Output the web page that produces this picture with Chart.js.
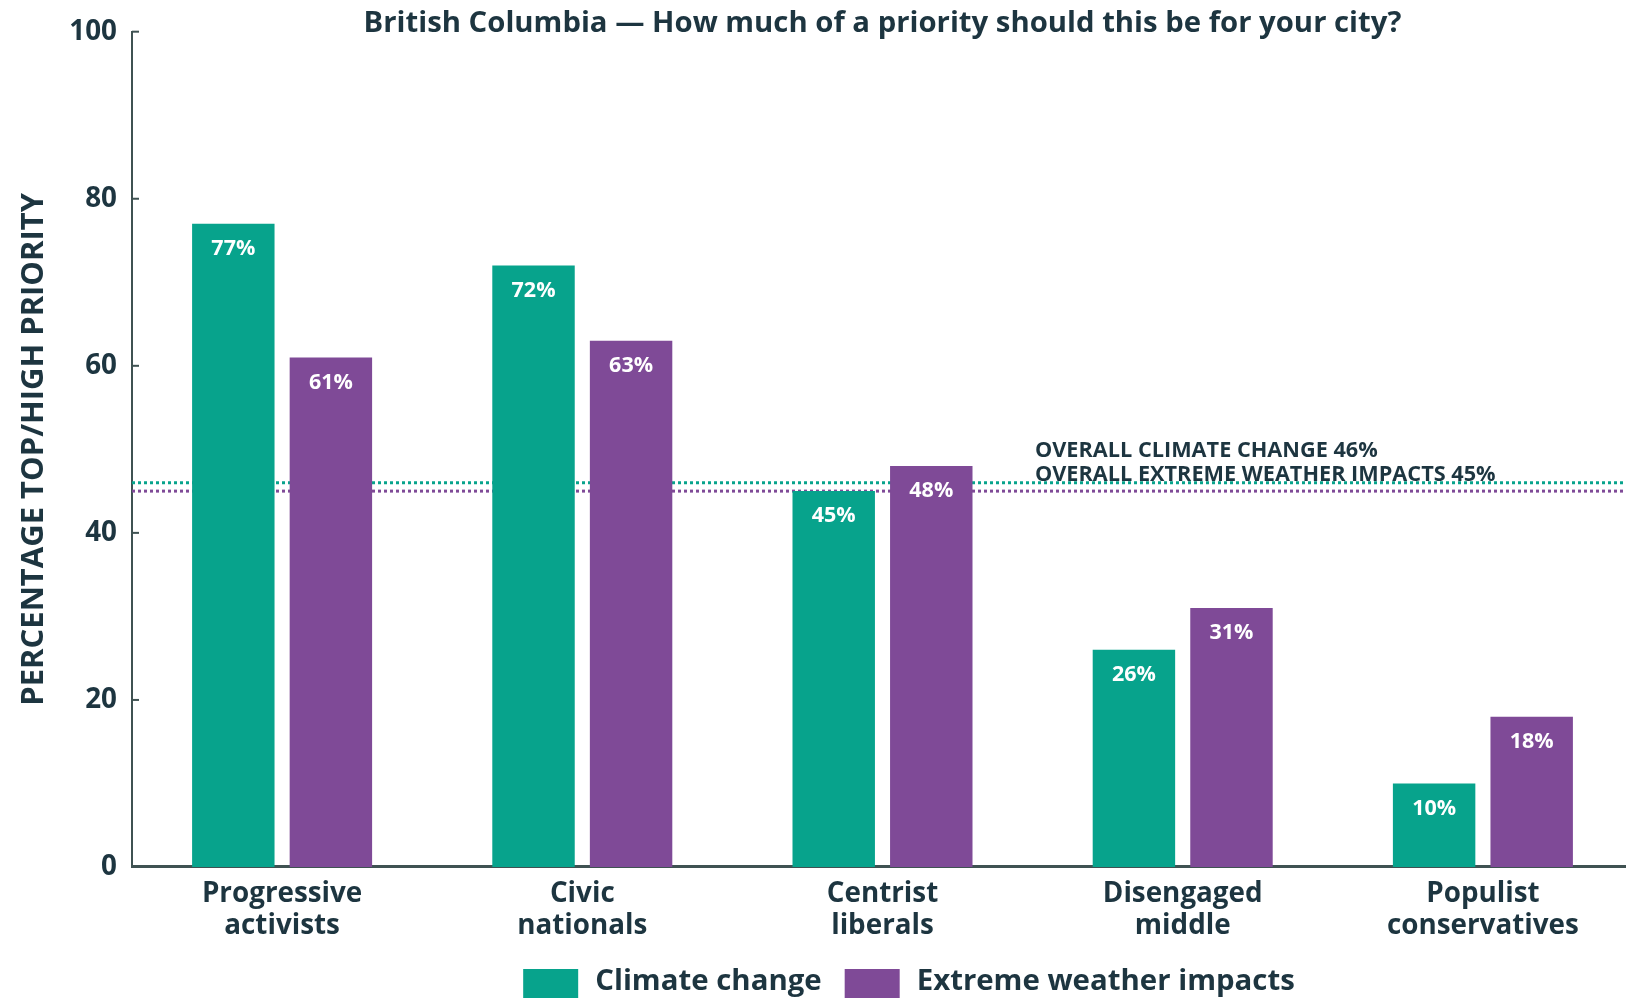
<!DOCTYPE html>
<html>
<head>
<meta charset="utf-8">
<script src="https://cdn.jsdelivr.net/npm/chart.js@4.4.1/dist/chart.umd.min.js"></script>
<style>
	html, body { margin: 0; padding: 0; background: #fff; overflow: hidden; }
	/* the plot runs a few pixels past the right edge of the page */
	#wrap { width: 1626px; height: 998px; overflow: hidden; }
</style>
</head>
<body>
<div id="wrap"><canvas id="priorityChart" width="1633" height="998"></canvas></div>
<script>
// segments along the x axis (two lines each)
const segments = [
	['Progressive', 'activists'],
	['Civic', 'nationals'],
	['Centrist', 'liberals'],
	['Disengaged', 'middle'],
	['Populist', 'conservatives'],
];
// % saying top/high priority
const climateChange = [77, 72, 45, 26, 10];
const extremeWeather = [61, 63, 48, 31, 18];
// province-wide reference lines
const overallClimate = 46;
const overallWeather = 45;
const yTicks = [0, 20, 40, 60, 80, 100];

const GREEN = '#07a38c';
const PURPLE = '#7f4a97';
const INK = '#1d3540';
const AXIS = '#3f5252';
const FONT = "'Open Sans', 'Noto Sans', sans-serif";

// dotted overall lines, drawn under the bars
const overallLines = {
	id: 'overallLines',
	beforeDatasetsDraw(chart) {
		const { ctx, chartArea, scales } = chart;
		const lines = [
			{ v: overallClimate, c: GREEN },
			{ v: overallWeather, c: PURPLE },
		];
		ctx.save();
		ctx.lineWidth = 3;
		ctx.setLineDash([3, 3]);
		lines.forEach((l) => {
			const y = scales.y.getPixelForValue(l.v);
			ctx.strokeStyle = l.c;
			ctx.beginPath();
			ctx.moveTo(chartArea.left, y);
			ctx.lineTo(chartArea.right, y);
			ctx.stroke();
		});
		ctx.restore();
	},
	afterDatasetsDraw(chart) {
		const { ctx, scales } = chart;
		const y = scales.y.getPixelForValue(overallClimate);
		ctx.save();
		ctx.fillStyle = INK;
		ctx.font = `bold 21.7px ${FONT}`;
		ctx.textAlign = 'left';
		ctx.textBaseline = 'middle';
		ctx.fillText(`OVERALL CLIMATE CHANGE ${overallClimate}%`, 1035, y - 32);
		ctx.fillText(`OVERALL EXTREME WEATHER IMPACTS ${overallWeather}%`, 1035, y - 8);
		ctx.restore();
	},
};

// white value labels inside the top of each bar
const barLabels = {
	id: 'barLabels',
	afterDatasetsDraw(chart) {
		const { ctx } = chart;
		ctx.save();
		ctx.fillStyle = '#fff';
		ctx.font = `bold 21.5px ${FONT}`;
		ctx.textAlign = 'center';
		ctx.textBaseline = 'middle';
		chart.data.datasets.forEach((ds, i) => {
			chart.getDatasetMeta(i).data.forEach((bar, j) => {
				ctx.fillText(ds.data[j] + '%', bar.x, bar.y + 25);
			});
		});
		ctx.restore();
	},
};

// short inward tick marks on the y axis
const innerTicks = {
	id: 'innerTicks',
	afterDraw(chart) {
		const { ctx, scales } = chart;
		const x = scales.y.right;
		ctx.save();
		ctx.strokeStyle = AXIS;
		ctx.lineWidth = 2;
		scales.y.ticks.forEach((t) => {
			const y = scales.y.getPixelForValue(t.value);
			ctx.beginPath();
			ctx.moveTo(x, y);
			ctx.lineTo(x + 7, y);
			ctx.stroke();
		});
		ctx.restore();
	},
};

// legend row under the category labels
const bottomLegend = {
	id: 'bottomLegend',
	afterDraw(chart) {
		const { ctx } = chart;
		const box = 55;
		const gap = 17;
		const itemGap = 23;
		ctx.save();
		ctx.font = `bold 29.4px ${FONT}`;
		ctx.textBaseline = 'middle';
		const items = chart.data.datasets.map((ds) => ({
			label: ds.label,
			color: ds.backgroundColor,
			w: box + gap + ctx.measureText(ds.label).width,
		}));
		const total = items.reduce((s, it) => s + it.w, 0) + itemGap * (items.length - 1);
		let x = 909 - total / 2;
		const top = 969;
		items.forEach((it) => {
			ctx.fillStyle = it.color;
			ctx.fillRect(x, top, box, 40);
			ctx.fillStyle = INK;
			ctx.fillText(it.label, x + box + gap, top + 13);
			x += it.w + itemGap;
		});
		ctx.restore();
	},
};

const ctx = document.getElementById('priorityChart').getContext('2d');
new Chart(ctx, {
	type: 'bar',
	data: {
		labels: segments,
		datasets: [
			{
				label: 'Climate change',
				data: climateChange,
				backgroundColor: GREEN,
				categoryPercentage: 0.65,
				barPercentage: 0.845,
			},
			{
				label: 'Extreme weather impacts',
				data: extremeWeather,
				backgroundColor: PURPLE,
				categoryPercentage: 0.65,
				barPercentage: 0.845,
			},
		],
	},
	options: {
		responsive: false,
		animation: false,
		layout: { padding: 0 },
		plugins: {
			legend: { display: false },
			tooltip: { enabled: false },
			title: {
				display: true,
				fullSize: false,
				text: 'British Columbia — How much of a priority should this be for your city?',
				color: INK,
				font: { family: FONT, size: 29.3, weight: 'bold', lineHeight: 1.2 },
				padding: { top: 6, bottom: -10 },
				align: 'center',
			},
		},
		scales: {
			x: {
				grid: { display: false, drawTicks: false },
				border: { display: true, color: AXIS, width: 3 },
				ticks: {
					color: INK,
					padding: 11,
					font: { family: FONT, size: 27.8, weight: 'bold', lineHeight: 1.15 },
					maxRotation: 0,
				},
				afterFit(scale) {
					scale.height = 131;
				},
			},
			y: {
				min: 0,
				max: 100,
				afterBuildTicks(scale) {
					scale.ticks = yTicks.map((v) => ({ value: v }));
				},
				grid: { display: false, drawTicks: false },
				border: { display: true, color: AXIS, width: 2 },
				ticks: {
					color: INK,
					padding: 15,
					font: { family: FONT, size: 27.8, weight: 'bold' },
				},
				title: {
					display: true,
					text: 'PERCENTAGE TOP/HIGH PRIORITY',
					color: INK,
					font: { family: FONT, size: 31, weight: 'bold', lineHeight: 1.2 },
					padding: { top: 16, bottom: 0 },
				},
				afterFit(scale) {
					scale.width = 132;
				},
			},
		},
	},
	plugins: [overallLines, barLabels, innerTicks, bottomLegend],
});
</script>
</body>
</html>
